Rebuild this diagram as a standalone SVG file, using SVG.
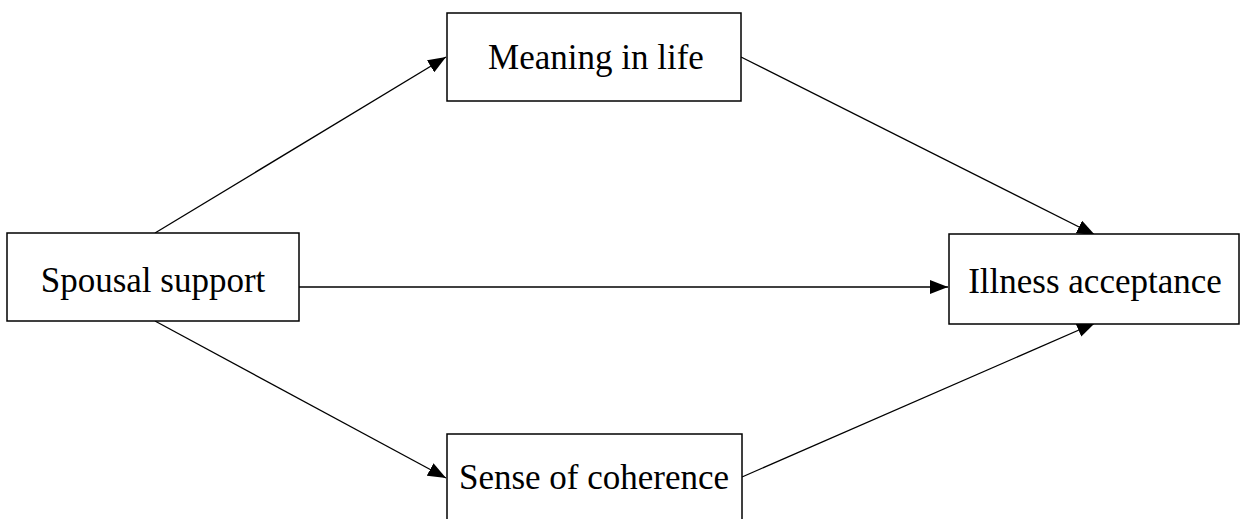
<svg xmlns="http://www.w3.org/2000/svg" width="1244" height="519" viewBox="0 0 1244 519">
<style>
.box{fill:#fff;stroke:#000;stroke-width:1.5}
.lbl{font-family:"Liberation Serif","Times New Roman",serif;font-size:35px;fill:#000;text-anchor:middle}
.edge{stroke:#000;stroke-width:1.3;fill:none;marker-end:url(#ah)}
</style>
<defs>
<marker id="ah" viewBox="0 0 18 14" refX="18" refY="7" markerWidth="18" markerHeight="14" markerUnits="userSpaceOnUse" orient="auto">
<path d="M0,0 L18,7 L0,14 Z" fill="#000"/>
</marker>
</defs>
<rect width="1244" height="519" fill="#fff"/>
<g id="connectors">
<line class="edge" x1="155" y1="233" x2="446" y2="57"/>
<line class="edge" x1="741" y1="57" x2="1095" y2="235"/>
<line class="edge" x1="299" y1="287" x2="948" y2="287"/>
<line class="edge" x1="155" y1="321" x2="446" y2="478"/>
<line class="edge" x1="742" y1="477" x2="1095" y2="323"/>
</g>
<g id="spousal">
<rect class="box" x="7" y="233" width="292" height="88"/>
<text class="lbl" x="153" y="292">Spousal support</text>
</g>
<g id="meaning">
<rect class="box" x="447" y="13" width="294" height="88"/>
<text class="lbl" x="596" y="69">Meaning in life</text>
</g>
<g id="coherence">
<rect class="box" x="447" y="434" width="295" height="100"/>
<text class="lbl" x="594" y="489">Sense of coherence</text>
</g>
<g id="illness">
<rect class="box" x="949" y="234" width="290" height="90"/>
<text class="lbl" x="1095" y="293">Illness acceptance</text>
</g>
</svg>
